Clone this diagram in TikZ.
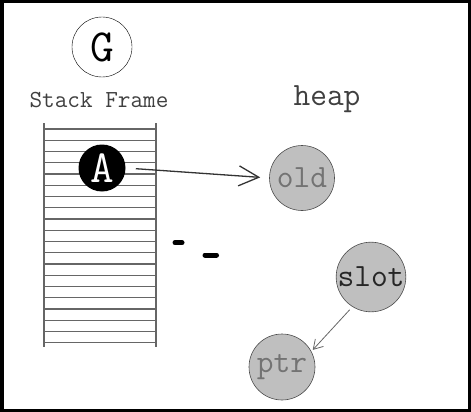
\documentclass[tikz,border=0pt]{standalone}
\usepackage{fontspec}
\usetikzlibrary{arrows.meta}

\begin{document}
\begin{tikzpicture}[x=1pt,y=-1pt,>={Straight Barb[length=20pt,width=20pt]},semithick,
    obj/.style={circle,draw=black!70,fill=black!25,minimum size=66pt,inner sep=0pt,
        font=\ttfamily\fontsize{32.5}{32.5}\selectfont},
    frameline/.style={draw=black!60,line width=1.1pt},
    label/.style={font=\ttfamily\fontsize{#1}{#1}\selectfont,anchor=base,text=black!75}]

\useasboundingbox (0,0) rectangle (471,412);
\draw [line width=3.5pt] (1.75,1.75) rectangle (469.25,410.25);

\node [circle,draw,thin,minimum size=60pt,inner sep=0pt,font=\ttfamily\fontsize{46}{46}\selectfont] (g) at (102,47) {G};
\node [label=24.5] (frame) at (99,107) {Stack Frame};
\node [label=32.5] (heap) at (327,105) {heap};

\path [frameline]
    (44,123) -- (44,347)
    (156,123) -- (156,347)
;
\foreach \i in {0,...,19}
    \path [frameline] (44,{129+11.25*\i}) -- (156,{129+11.25*\i});

\node [circle,fill=black,text=white,minimum size=47pt,inner sep=0pt,font=\ttfamily\fontsize{46}{46}\selectfont] (a) at (102,168) {A};

\node [obj,text=black!55,minimum size=65pt] (old) at (302,178) {old};
\node [obj,text=black!85,minimum size=67pt] (slot) at (371,277) {slot};
\node [obj,text=black!55] (ptr) at (282,367) {ptr};

\draw [->,line width=1.3pt,draw=black!80,shorten <=10pt,shorten >=9pt] (a.east) -- (old.west);
\draw [->,>={Straight Barb[length=9pt,width=11pt]},line width=0.8pt,draw=black!60,shorten <=4pt,shorten >=2pt] (slot.238) -- (ptr.28);

\path [draw,-,line width=5pt,line cap=round]
    (175,242.7) -- (182,242.7)
    (205,255) -- (216.5,255)
;

\end{tikzpicture}
\end{document}
